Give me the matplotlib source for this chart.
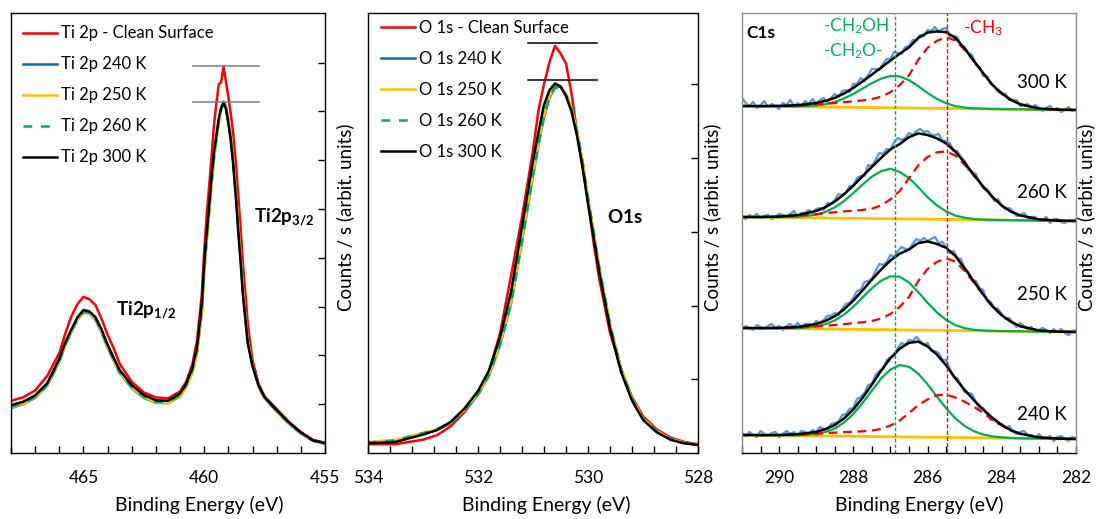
import matplotlib
matplotlib.use('Agg')
import matplotlib.pyplot as plt
import numpy as np
from matplotlib.ticker import MultipleLocator, FixedLocator, NullFormatter

plt.rcParams['font.family'] = ['Lato', 'DejaVu Sans']
plt.rcParams['mathtext.fontset'] = 'custom'
plt.rcParams['mathtext.rm'] = 'Lato'
plt.rcParams['mathtext.bf'] = 'Lato:bold'
plt.rcParams['mathtext.it'] = 'Lato:italic'

# ---------------- Ti 2p ----------------
ti_energy = [468.0, 467.5, 467.0, 466.5, 466.0, 465.75, 465.5, 465.25, 465.0, 464.75,
             464.5, 464.25, 464.0, 463.75, 463.5, 463.0, 462.5, 462.0, 461.5, 461.0,
             460.75, 460.5, 460.3, 460.1, 460.0, 459.9, 459.8, 459.7, 459.6, 459.5,
             459.4, 459.3, 459.2, 459.1, 459.0, 458.9, 458.8, 458.7, 458.6, 458.5,
             458.4, 458.3, 458.2, 458.0, 457.75, 457.5, 457.0, 456.5, 456.0, 455.5,
             455.0]
ti_clean = [1.07, 1.14, 1.28, 1.58, 2.05, 2.45, 2.80, 3.05, 3.20, 3.15,
            3.03, 2.75, 2.42, 2.15, 1.83, 1.46, 1.24, 1.14, 1.12, 1.26,
            1.46, 1.80, 2.30, 3.25, 4.15, 4.85, 5.45, 6.05, 6.70, 7.15,
            7.55, 7.60, 7.92, 7.60, 7.30, 6.95, 6.55, 6.00, 5.35, 4.65,
            3.90, 3.30, 2.65, 1.90, 1.42, 1.16, 0.90, 0.64, 0.43, 0.27,
            0.21]
ti_240 = [0.92, 1.00, 1.13, 1.38, 1.87, 2.21, 2.48, 2.73, 2.88, 2.86,
          2.73, 2.47, 2.16, 1.89, 1.64, 1.33, 1.13, 1.03, 1.02, 1.16,
          1.36, 1.65, 2.05, 2.90, 3.72, 4.35, 4.92, 5.50, 6.02, 6.42,
          6.80, 7.05, 7.20, 7.10, 6.82, 6.48, 6.00, 5.40, 4.72, 4.05,
          3.35, 2.82, 2.30, 1.80, 1.37, 1.12, 0.85, 0.60, 0.40, 0.25,
          0.19]
ti_250 = [0.93, 1.01, 1.14, 1.39, 1.88, 2.22, 2.49, 2.74, 2.89, 2.87,
          2.74, 2.48, 2.17, 1.90, 1.65, 1.34, 1.14, 1.04, 1.02, 1.15,
          1.35, 1.63, 2.02, 2.85, 3.68, 4.30, 4.88, 5.46, 5.98, 6.38,
          6.76, 7.02, 7.16, 7.08, 6.82, 6.50, 6.02, 5.45, 4.76, 4.10,
          3.40, 2.85, 2.32, 1.80, 1.37, 1.12, 0.86, 0.61, 0.40, 0.25,
          0.19]
ti_260 = [0.95, 1.02, 1.15, 1.40, 1.89, 2.23, 2.50, 2.75, 2.90, 2.88,
          2.75, 2.49, 2.18, 1.91, 1.66, 1.35, 1.15, 1.05, 1.04, 1.18,
          1.38, 1.68, 2.10, 2.95, 3.78, 4.40, 4.97, 5.56, 6.07, 6.45,
          6.80, 7.04, 7.15, 7.06, 6.79, 6.45, 5.96, 5.36, 4.66, 4.00,
          3.30, 2.79, 2.28, 1.79, 1.38, 1.13, 0.86, 0.61, 0.41, 0.25,
          0.19]
ti_300 = [0.98, 1.05, 1.18, 1.43, 1.93, 2.27, 2.53, 2.78, 2.93, 2.90,
          2.78, 2.53, 2.22, 1.95, 1.70, 1.39, 1.19, 1.08, 1.07, 1.22,
          1.42, 1.73, 2.17, 3.05, 3.90, 4.50, 5.05, 5.65, 6.15, 6.50,
          6.85, 7.08, 7.17, 7.05, 6.75, 6.40, 5.90, 5.30, 4.60, 3.95,
          3.25, 2.75, 2.25, 1.78, 1.38, 1.14, 0.88, 0.63, 0.42, 0.26,
          0.20]
ti_labels = ['Ti 2p - Clean Surface', 'Ti 2p 240 K', 'Ti 2p 250 K', 'Ti 2p 260 K', 'Ti 2p 300 K']
ti_refline_energy = [460.46, 457.75]
ti_refline_levels = [7.93, 7.19]

# ---------------- O 1s ----------------
o_energy = [534.0, 533.5, 533.0, 532.75, 532.5, 532.25, 532.0, 531.8, 531.6, 531.4,
            531.2, 531.0, 530.9, 530.8, 530.7, 530.6, 530.5, 530.4, 530.3, 530.2,
            530.1, 530.0, 529.9, 529.8, 529.6, 529.4, 529.2, 529.0, 528.75, 528.5,
            528.25, 528.0]
o_clean = [0.12, 0.12, 0.18, 0.24, 0.36, 0.55, 0.80, 1.10, 1.62, 2.40,
           3.20, 4.10, 4.65, 5.00, 5.30, 5.52, 5.42, 5.28, 4.88, 4.35,
           3.88, 3.42, 2.86, 2.38, 1.63, 1.14, 0.76, 0.50, 0.32, 0.21,
           0.15, 0.12]
o_240 = [0.14, 0.17, 0.26, 0.31, 0.40, 0.57, 0.79, 1.05, 1.46, 2.02,
         2.86, 3.76, 4.18, 4.55, 4.82, 4.95, 4.97, 4.86, 4.68, 4.36,
         3.95, 3.45, 3.00, 2.53, 1.74, 1.14, 0.74, 0.47, 0.30, 0.19,
         0.14, 0.11]
o_250 = [0.15, 0.18, 0.27, 0.32, 0.41, 0.58, 0.80, 1.06, 1.48, 2.04,
         2.88, 3.78, 4.20, 4.57, 4.84, 4.97, 4.98, 4.87, 4.69, 4.37,
         3.96, 3.46, 3.01, 2.54, 1.75, 1.15, 0.74, 0.47, 0.30, 0.19,
         0.14, 0.11]
o_260 = [0.14, 0.17, 0.27, 0.32, 0.41, 0.58, 0.80, 1.06, 1.47, 2.03,
         2.87, 3.77, 4.19, 4.56, 4.83, 4.96, 4.97, 4.86, 4.68, 4.36,
         3.95, 3.45, 3.00, 2.53, 1.74, 1.14, 0.74, 0.47, 0.30, 0.19,
         0.14, 0.11]
o_300 = [0.13, 0.15, 0.25, 0.31, 0.42, 0.60, 0.84, 1.12, 1.57, 2.18,
         3.07, 3.97, 4.35, 4.72, 4.92, 5.01, 4.97, 4.84, 4.63, 4.30,
         3.88, 3.38, 2.93, 2.47, 1.69, 1.10, 0.71, 0.45, 0.28, 0.18,
         0.13, 0.11]
o_labels = ['O 1s - Clean Surface', 'O 1s 240 K', 'O 1s 250 K', 'O 1s 260 K', 'O 1s 300 K']
o_refline_energy = [531.09, 529.83]
o_refline_levels = [5.56, 5.06]

# ---------------- C 1s ----------------
c_temps = ['300 K', '260 K', '250 K', '240 K']
c_offsets = [347, 236, 125, 18]
c_fit_energy = [291.0, 290.5, 290.0, 289.5, 289.0, 288.75, 288.5, 288.25, 288.0, 287.75,
                287.5, 287.25, 287.0, 286.75, 286.5, 286.25, 286.0, 285.75, 285.5, 285.25,
                285.0, 284.75, 284.5, 284.25, 284.0, 283.75, 283.5, 283.0, 282.5, 282.0]
c_background = [0.0, -0.2, -0.4, -0.7, -0.9, -1.0, -1.1, -1.2, -1.3, -1.4,
                -1.6, -1.7, -1.8, -1.9, -2.0, -2.1, -2.2, -2.3, -2.4, -2.6,
                -2.7, -2.8, -2.9, -3.0, -3.1, -3.2, -3.3, -3.6, -3.8, -4.0]
c_background_ends = [0.0, -4.0]
green_300 = [0, 0, 0.1, 0.3, 1.4, 2.8, 5.2, 8.7, 13.4, 18.9,
             24.5, 29.1, 31.7, 31.5, 27.9, 21.9, 15.2, 9.4, 5.2, 2.5,
             1.1, 0.4, 0.2, 0, 0, 0, 0, 0, 0, 0]
red_300 = [0, 0.1, 0.4, 1.2, 2.5, 3.3, 4.0, 5.0, 6.0, 7.0,
           8.5, 11.0, 15.6, 22.7, 32.7, 48.3, 60.4, 67.5, 71.0, 68.2,
           58.9, 47.6, 35.5, 24.1, 15.6, 9.2, 5.0, 1.1, 0.2, 0]
green_260 = [0, 0, 0.2, 0.7, 3.2, 6.1, 10.7, 17.2, 25.2, 33.8,
             41.9, 47.6, 50.0, 47.0, 41.0, 32.0, 22.0, 14.0, 8.0, 4.0,
             2.0, 0.8, 0.3, 0.1, 0, 0, 0, 0, 0, 0]
red_260 = [0, 0.2, 0.7, 1.9, 3.7, 4.8, 5.8, 6.8, 7.5, 8.5,
           9.9, 13.3, 19.4, 27.9, 40.8, 53.7, 62.2, 67.0, 68.0, 64.0,
           55.0, 44.0, 33.0, 23.0, 14.5, 8.5, 4.8, 1.2, 0.2, 0]
green_250 = [0, 0, 0.1, 0.5, 2.4, 4.8, 8.7, 14.7, 22.6, 32.0,
             41.4, 49.1, 53.5, 53.2, 47.5, 38.0, 27.5, 18.0, 10.5, 5.5,
             2.5, 1.0, 0.4, 0.1, 0, 0, 0, 0, 0, 0]
red_250 = [0, 0.1, 0.4, 1.2, 2.5, 3.3, 4.1, 5.1, 6.1, 7.1,
           8.6, 11.2, 15.8, 23.0, 33.1, 49.0, 61.2, 68.4, 72.0, 69.1,
           59.8, 48.2, 36.0, 24.5, 15.8, 9.4, 5.0, 1.1, 0.2, 0]
green_240 = [0, 0, 0, 0.4, 1.8, 4.0, 7.6, 13.7, 22.3, 33.5,
             46.0, 58.3, 67.3, 71.9, 70.2, 63.4, 52.9, 40.8, 29.1, 19.2,
             11.7, 6.6, 3.4, 1.6, 0.7, 0.3, 0, 0, 0, 0]
red_240 = [0, 0.1, 0.4, 1.1, 2.1, 2.9, 3.5, 4.1, 4.6, 5.1,
           6.0, 7.8, 11.3, 16.4, 23.9, 32.1, 37.8, 42.0, 43.0, 40.0,
           36.0, 31.0, 25.0, 18.5, 12.5, 7.5, 4.5, 1.2, 0.3, 0]
raw_300 = [8, 3, 0, 4, -2, 1, 5, -1, 2, 0,
           -3, 3, 1, 6, 0, 3, -1, 5, 2, 7,
           2, 6, 8, 4, 8, 12, 9, 15, 16, 14,
           22, 22, 28, 25, 31, 37, 37, 36, 42, 47,
           47, 54, 53, 52, 59, 60, 66, 66, 71, 70,
           76, 75, 79, 74, 77, 78, 70, 70, 69, 61,
           59, 53, 51, 41, 39, 30, 30, 22, 20, 14,
           13, 12, 6, 6, 6, 0, 1, 2, -2, 1,
           -2, -5, -2, 0, -4, -2, -6, -4, -1, -5,
           -3]
raw_260 = [1, -2, 2, 0, 3, -1, 1, 2, -2, 0,
           3, 2, 0, 3, 6, 0, 4, 4, 7, 4,
           8, 9, 7, 14, 13, 17, 23, 22, 24, 31,
           31, 39, 41, 41, 52, 51, 57, 64, 63, 68,
           67, 75, 79, 77, 79, 84, 82, 86, 88, 85,
           86, 82, 82, 83, 76, 76, 74, 66, 66, 60,
           56, 47, 45, 43, 35, 29, 28, 23, 16, 18,
           11, 8, 9, 6, 1, 2, 4, -1, 0, 0,
           -4, -3, 0, -6, -2, -2, -5, -6, -3, -4,
           -2]
raw_250 = [-1, 2, 0, -2, 3, 1, -1, 2, 4, 0,
           2, -2, 2, 4, 1, 5, 1, 4, 4, 2,
           7, 5, 8, 12, 12, 15, 13, 19, 24, 25,
           30, 37, 38, 46, 47, 49, 57, 64, 63, 66,
           73, 71, 77, 81, 79, 78, 84, 89, 87, 90,
           87, 89, 91, 85, 86, 81, 75, 77, 70, 69,
           60, 56, 48, 47, 40, 38, 27, 26, 20, 19,
           14, 9, 10, 5, 1, 5, 2, -1, 1, -4,
           -2, 0, -2, -5, -1, -4, -1, -5, -7, -3,
           -2]
raw_240 = [2, -1, 3, 0, -2, 4, 1, -1, 2, 3,
           -2, 1, 4, 1, 3, 0, 4, 3, 0, 5,
           3, 8, 6, 6, 11, 12, 13, 20, 21, 26,
           27, 36, 38, 42, 50, 51, 60, 64, 66, 75,
           78, 79, 87, 92, 90, 95, 94, 98, 94, 90,
           92, 84, 84, 82, 75, 75, 66, 58, 57, 50,
           43, 42, 41, 33, 26, 27, 21, 15, 16, 11,
           11, 7, 9, 4, 1, 3, 4, 0, 0, -4,
           1, -3, -4, -1, -6, -2, -1, -4, -6, -2,
           -3]
c_raw_energy = np.linspace(291.0, 282.0, len(raw_300))
c_green_line = 286.88
c_red_line = 285.48

# ---------------- styles ----------------
col_clean = '#FF0000'
col_240 = '#0070C0'
col_250 = '#FFC000'
col_260 = '#00B050'
col_300 = '#000000'

fig = plt.figure(figsize=(11.06, 5.19), dpi=100)
W, H = 1106.0, 519.0
ax1 = fig.add_axes([11 / W, 66 / H, 314 / W, 440 / H])
ax2 = fig.add_axes([368 / W, 66 / H, 330 / W, 440 / H])
ax3 = fig.add_axes([742 / W, 66 / H, 334 / W, 440 / H])


def style_axis(ax):
    ax.tick_params(axis='both', which='both', direction='in', length=5, width=1,
                   labelsize=12.5, pad=12, colors='black')
    for s in ax.spines.values():
        s.set_linewidth(1.0)


def draw_overview(ax, energy, series, labels, ref_e, ref_lv, ref_col):
    styles = [dict(color=col_clean, lw=1.8),
              dict(color=col_240, lw=1.8),
              dict(color=col_250, lw=1.8),
              dict(color=col_260, lw=1.8, ls=(0, (3.5, 3.5))),
              dict(color=col_300, lw=1.8)]
    for vals, lab, st in zip(series, labels, styles):
        ax.plot(energy, vals, label=lab, **st)
    for lv in ref_lv:
        ax.plot(ref_e, [lv, lv], color=ref_col, lw=1.1)


legend_kw = dict(loc='upper left', frameon=False, fontsize=12, handlelength=2.0,
                 handletextpad=0.25, labelspacing=0.9, borderaxespad=0.0)

# Panel 1
draw_overview(ax1, ti_energy, [ti_clean, ti_240, ti_250, ti_260, ti_300], ti_labels,
              ti_refline_energy, ti_refline_levels, '#7F7F7F')
ax1.set_xlim(468, 455)
ax1.set_ylim(0, 440 / 48.8)
ax1.xaxis.set_major_locator(FixedLocator([465, 460, 455]))
ax1.xaxis.set_minor_locator(MultipleLocator(1))
ax1.yaxis.tick_right()
ax1.yaxis.set_major_locator(FixedLocator([1, 2, 3, 4, 5, 6, 7, 8]))
ax1.yaxis.set_major_formatter(NullFormatter())
style_axis(ax1)
ax1.text(457.94, 4.82, r'$\mathbf{Ti2p_{3/2}}$', fontsize=13.5, va='center', ha='left')
ax1.text(463.65, 2.93, r'$\mathbf{Ti2p_{1/2}}$', fontsize=13.5, va='center', ha='left')
ax1.legend(bbox_to_anchor=(0.018, 0.987), **legend_kw)
ax1.set_xlabel('Binding Energy (eV)', fontsize=14)
ax1.xaxis.set_label_coords(0.60, -0.098)

# Panel 2
draw_overview(ax2, o_energy, [o_clean, o_240, o_250, o_260, o_300], o_labels,
              o_refline_energy, o_refline_levels, '#000000')
ax2.set_xlim(534, 528)
ax2.set_ylim(0, 440 / 73.75)
ax2.xaxis.set_major_locator(FixedLocator([534, 532, 530, 528]))
ax2.xaxis.set_minor_locator(MultipleLocator(0.4))
ax2.yaxis.tick_right()
ax2.yaxis.set_major_locator(FixedLocator([1, 2, 3, 4, 5]))
ax2.yaxis.set_major_formatter(NullFormatter())
style_axis(ax2)
ax2.text(529.65, 3.2, r'$\mathbf{O1s}$', fontsize=13.5, va='center', ha='left')
ax2.legend(bbox_to_anchor=(0.02, 1.0), **legend_kw)
ax2.set_xlabel('Binding Energy (eV)', fontsize=14)
ax2.xaxis.set_label_coords(0.54, -0.098)

# Panel 3
greens = [green_300, green_260, green_250, green_240]
reds = [red_300, red_260, red_250, red_240]
raws = [raw_300, raw_260, raw_250, raw_240]
bg = np.array(c_background)
for off, g, r, raw in zip(c_offsets, greens, reds, raws):
    g = np.array(g)
    r = np.array(r)
    base = off + bg
    ax3.plot(c_raw_energy, off + np.array(raw), color='#5B9BD5', lw=1.7)
    ax3.plot([291.0, 282.0], [off + c_background_ends[0], off + c_background_ends[1]],
             color='#FFC000', lw=2.0)
    ax3.plot(c_fit_energy, base + g, color='#00B050', lw=1.6)
    ax3.plot(c_fit_energy, base + r, color='#FF0000', lw=1.6, ls=(0, (4, 2.5)))
    ax3.plot(c_fit_energy, base + g + r, color='black', lw=1.8)
ax3.axvline(c_green_line, color='#00B050', lw=1.0, ls=(0, (2.5, 1.5)))
ax3.axvline(c_red_line, color='#FF0000', lw=1.0, ls=(0, (3, 1.5)))
ax3.set_xlim(291, 282)
ax3.set_ylim(0, 440)
ax3.xaxis.set_major_locator(FixedLocator([290, 288, 286, 284, 282]))
ax3.xaxis.set_minor_locator(MultipleLocator(0.5))
ax3.set_yticks([])
style_axis(ax3)
for side in ['top', 'left', 'right']:
    ax3.spines[side].set_color('#8C8C8C')
label_y = [371, 261, 158, 38]
for t, yv in zip(c_temps, label_y):
    ax3.text(282.24, yv, t, fontsize=13.5, ha='right', va='center')
ax3.text(290.87, 420, 'C1s', fontsize=12.5, fontweight='bold', ha='left', va='center')
ax3.text(288.82, 427, r'-CH$_\mathregular{2}$OH', fontsize=12.5, color='#00B050', ha='left', va='center')
ax3.text(288.82, 402, r'-CH$_\mathregular{2}$O-', fontsize=12.5, color='#00B050', ha='left', va='center')
ax3.text(285.04, 425, r'-CH$_\mathregular{3}$', fontsize=12.5, color='#FF0000', ha='left', va='center')
ax3.set_xlabel('Binding Energy (eV)', fontsize=14)
ax3.xaxis.set_label_coords(0.53, -0.098)

for xp in [345, 712, 1086]:
    fig.text(xp / W, (519 - 217) / H, 'Counts / s (arbit. units)', rotation=90,
             ha='center', va='center', fontsize=13.5)

fig.savefig('out.png', dpi=100)
